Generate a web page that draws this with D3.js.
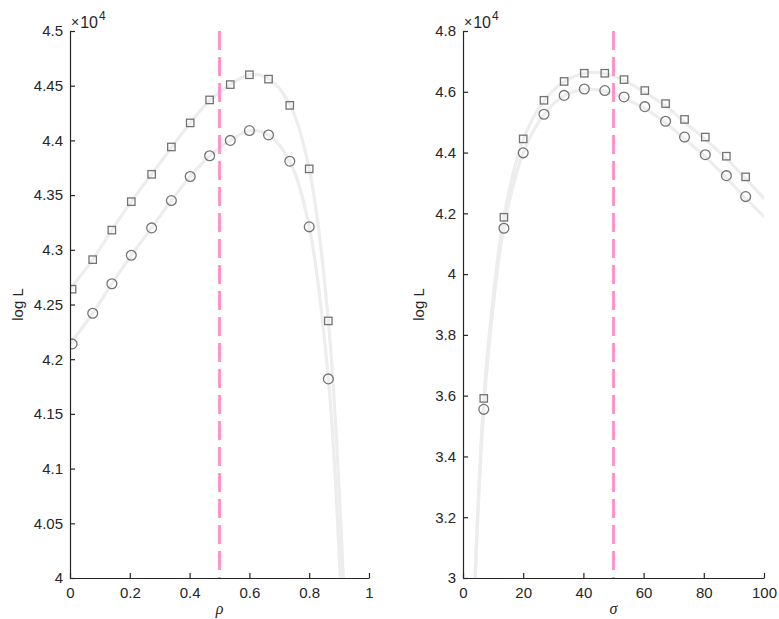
<!DOCTYPE html>
<html>
<head>
<meta charset="utf-8">
<script src="https://cdn.jsdelivr.net/npm/d3@7/dist/d3.min.js"></script>
<style>
  html, body { margin: 0; padding: 0; background: #fff; }
  svg { display: block; }
  .tick text { font-family: "Liberation Sans", Arial, sans-serif; font-size: 15px; fill: #262626; }
  .axis path, .axis line { stroke: #262626; stroke-width: 1.2; }
</style>
</head>
<body>
<svg id="chart" width="779" height="619"></svg>
<script>
// ---- Log-likelihood versus rho ----
const rhoX       = [0.007, 0.076, 0.14, 0.205, 0.273, 0.339, 0.402, 0.467, 0.536, 0.6, 0.664, 0.735, 0.8, 0.864];
const rhoSquares = [42640, 42910, 43180, 43440, 43690, 43940, 44160, 44370, 44510, 44600, 44560, 44320, 43740, 42350];
const rhoCircles = [42140, 42420, 42690, 42950, 43200, 43450, 43670, 43860, 44000, 44090, 44050, 43810, 43210, 41820];

// fitted curves
const rhoFitUpperX = [0.003, 0.076, 0.14, 0.205, 0.273, 0.339, 0.402, 0.467, 0.536, 0.6, 0.664, 0.735, 0.8, 0.864, 0.914];
const rhoFitUpperY = [42650, 42910, 43180, 43440, 43690, 43935, 44160, 44365, 44510, 44600, 44565, 44330, 43740, 42350, 40000];
const rhoFitLowerX = [0.003, 0.076, 0.14, 0.205, 0.273, 0.339, 0.402, 0.467, 0.536, 0.6, 0.664, 0.735, 0.8, 0.864, 0.904];
const rhoFitLowerY = [42150, 42420, 42690, 42950, 43200, 43450, 43670, 43860, 44000, 44090, 44050, 43810, 43210, 41820, 40000];

const rhoXTicks = [0, 0.2, 0.4, 0.6, 0.8, 1];
const rhoYTicks = [40000, 40500, 41000, 41500, 42000, 42500, 43000, 43500, 44000, 44500, 45000];
const rhoTrue = 0.5;

// ---- Log-likelihood versus sigma ----
const sigmaX       = [6.9, 13.6, 20.0, 26.9, 33.6, 40.3, 47.1, 53.5, 60.4, 67.3, 73.6, 80.5, 87.5, 93.9];
const sigmaSquares = [35910, 41870, 44450, 45720, 46340, 46610, 46610, 46400, 46040, 45610, 45090, 44510, 43880, 43200];
const sigmaCircles = [35550, 41510, 43990, 45260, 45880, 46090, 46040, 45830, 45510, 45030, 44510, 43930, 43240, 42550];

const sigmaFitX      = [4.0, 6.9, 10.1, 13.6, 20.0, 26.9, 33.6, 40.3, 47.0, 53.5, 60.4, 67.3, 73.6, 80.5, 87.5, 93.9, 100];
const sigmaFitUpperY = [30000, 35900, 39300, 41900, 44420, 45700, 46330, 46610, 46600, 46370, 45980, 45530, 45000, 44430, 43800, 43140, 42490];
const sigmaFitLowerY = [30000, 35550, 39000, 41550, 43990, 45250, 45870, 46080, 46030, 45790, 45450, 44970, 44450, 43860, 43170, 42490, 41890];

const sigmaXTicks = [0, 20, 40, 60, 80, 100];
const sigmaYTicks = [30000, 32000, 34000, 36000, 38000, 40000, 42000, 44000, 46000, 48000];
const sigmaTrue = 50;

const svg = d3.select("#chart");

const panels = [
  {
    id: "rho", left: 70, right: 369, xDomain: [0, 1], yDomain: [40000, 45000],
    xTicks: rhoXTicks, yTicks: rhoYTicks, xLabel: "\u03C1", yLabelX: 18,
    x: rhoX, squares: rhoSquares, circles: rhoCircles,
    fits: [d3.zip(rhoFitUpperX, rhoFitUpperY), d3.zip(rhoFitLowerX, rhoFitLowerY)],
    truth: rhoTrue
  },
  {
    id: "sigma", left: 463, right: 764, xDomain: [0, 100], yDomain: [30000, 48000],
    xTicks: sigmaXTicks, yTicks: sigmaYTicks, xLabel: "\u03C3", yLabelX: 419,
    x: sigmaX, squares: sigmaSquares, circles: sigmaCircles,
    fits: [d3.zip(sigmaFitX, sigmaFitUpperY), d3.zip(sigmaFitX, sigmaFitLowerY)],
    truth: sigmaTrue
  }
];

const plotTop = 31, plotBottom = 578;
const fmt = v => String(+(v / 1e4).toFixed(2));

panels.forEach(p => {
  const x = d3.scaleLinear().domain(p.xDomain).range([p.left, p.right]);
  const y = d3.scaleLinear().domain(p.yDomain).range([plotBottom, plotTop]);

  svg.append("clipPath").attr("id", "clip-" + p.id)
    .append("rect").attr("x", p.left).attr("y", plotTop)
    .attr("width", p.right - p.left).attr("height", plotBottom - plotTop);

  const g = svg.append("g");
  const plot = g.append("g").attr("clip-path", `url(#clip-${p.id})`);
  const line = d3.line().x(d => x(d[0])).y(d => y(d[1])).curve(d3.curveCatmullRom.alpha(0.5));

  // smooth fitted curves
  p.fits.forEach(f => {
    plot.append("path").attr("d", line(f))
      .attr("fill", "none").attr("stroke", "#ededed").attr("stroke-width", 3.2)
      .attr("stroke-linecap", "round");
  });

  // square markers
  plot.append("g").selectAll("rect").data(p.x.map((v, i) => [v, p.squares[i]]))
    .join("rect")
    .attr("x", d => x(d[0]) - 3.7).attr("y", d => y(d[1]) - 3.7)
    .attr("width", 7.4).attr("height", 7.4)
    .attr("fill", "none").attr("stroke", "#737373").attr("stroke-width", 1.3);

  // circle markers
  plot.append("g").selectAll("circle").data(p.x.map((v, i) => [v, p.circles[i]]))
    .join("circle")
    .attr("cx", d => x(d[0])).attr("cy", d => y(d[1])).attr("r", 4.9)
    .attr("fill", "none").attr("stroke", "#737373").attr("stroke-width", 1.3);

  // true parameter value
  g.append("line")
    .attr("x1", x(p.truth)).attr("x2", x(p.truth))
    .attr("y1", plotTop).attr("y2", plotBottom)
    .attr("stroke", "#ff8ec8").attr("stroke-width", 2.8)
    .attr("stroke-dasharray", "19,7");

  // axes
  g.append("g").attr("class", "axis").attr("transform", `translate(0,${plotBottom})`)
    .call(d3.axisBottom(x).tickValues(p.xTicks).tickFormat(d => String(d))
      .tickSizeInner(-5).tickSizeOuter(0).tickPadding(9));
  g.append("g").attr("class", "axis").attr("transform", `translate(${p.left},0)`)
    .call(d3.axisLeft(y).tickValues(p.yTicks).tickFormat(fmt)
      .tickSizeInner(-5).tickSizeOuter(0).tickPadding(7));

  // exponent marker
  const ex = g.append("text").attr("x", p.left + 1).attr("y", 28)
    .attr("font-family", "Liberation Sans, Arial, sans-serif").attr("fill", "#262626");
  ex.append("tspan").attr("font-size", "14px").attr("dy", -1).text("\u00D7");
  ex.append("tspan").attr("font-size", "16px").attr("dy", 1).attr("dx", 1).text("10");
  ex.append("tspan").attr("font-size", "12px").attr("dy", -8).attr("dx", 1).text("4");

  // axis labels
  g.append("text").attr("x", (p.left + p.right) / 2).attr("y", 614)
    .attr("text-anchor", "middle")
    .attr("font-family", "Liberation Serif, serif").attr("font-style", "italic")
    .attr("font-size", "16px").attr("fill", "#262626").text(p.xLabel);
  g.append("text")
    .attr("transform", `translate(${p.yLabelX},${(plotTop + plotBottom) / 2}) rotate(-90)`)
    .attr("text-anchor", "middle").attr("dy", "0.35em")
    .attr("font-family", "Liberation Sans, Arial, sans-serif")
    .attr("font-size", "15px").attr("fill", "#262626").text("log L");
});
</script>
</body>
</html>
